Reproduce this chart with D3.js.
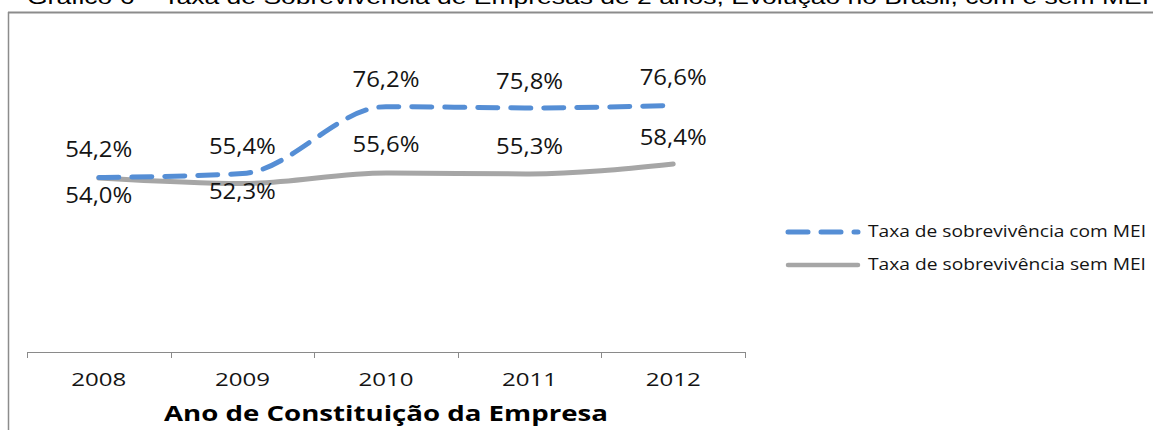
<!DOCTYPE html>
<meta charset="utf-8">
<style>
body { margin: 0; background: #fff; }
text { font-family: "Open Sans", sans-serif; fill: #141414; }
.title { font-family: "Liberation Sans", Arial, sans-serif; fill: #000; }
.axis path, .axis line { stroke: #8a8a8a; stroke-width: 1.5px; shape-rendering: crispEdges; }
.line { fill: none; stroke-width: 5px; stroke-linecap: round; stroke-linejoin: round; }
</style>
<body>
<script src="https://d3js.org/d3.v7.min.js"></script>
<script>

// data
var years = ["2008", "2009", "2010", "2011", "2012"];
var comMEI = [54.2, 55.4, 76.2, 75.8, 76.6];
var semMEI = [54.0, 52.3, 55.6, 55.3, 58.4];
var seriesNames = ["Taxa de sobrevivência com MEI", "Taxa de sobrevivência sem MEI"];
var titleText = "Gráfico 6 – Taxa de Sobrevivência de Empresas de 2 anos, Evolução no Brasil, com e sem MEI";
var axisTitle = "Ano de Constituição da Empresa";

// label offsets (baseline relative to point)
var comLabelDy = [-20, -20, -20, -19, -20];
var semLabelDy = [25, 15, -21, -20, -19];

var W = 1153, H = 430;
var blue = "#558ed5", gray = "#a6a6a6";
var fmt = function(v) { return v.toFixed(1).replace(".", ",") + "%"; };

var svg = d3.select("body").append("svg")
    .attr("width", W)
    .attr("height", H);

// title (cut at top, as in the source)
svg.append("text")
    .attr("class", "title")
    .attr("x", 27)
    .attr("y", 4)
    .attr("font-size", 21)
    .attr("textLength", 1122)
    .attr("lengthAdjust", "spacingAndGlyphs")
    .text(titleText);

// frame
svg.append("line").attr("x1", 8).attr("x2", W).attr("y1", 12.5).attr("y2", 12.5)
    .attr("stroke", "#8c8c8c").attr("stroke-width", 2);
svg.append("line").attr("x1", 8.5).attr("x2", 8.5).attr("y1", 12).attr("y2", H)
    .attr("stroke", "#8c8c8c").attr("stroke-width", 1.5);

// scales
var x = d3.scaleBand().domain(years).range([27, 745]);
var y = d3.scaleLinear().domain([0, 100]).range([352, 30]);
var cx = function(d, i) { return x(years[i]) + x.bandwidth() / 2; };

// x axis: line with ticks at band boundaries
var axis = svg.append("g").attr("class", "axis");
axis.append("path").attr("d", "M27,352.5H745");
var bounds = years.map(function(d) { return x(d); }).concat([x.range()[1]]);
axis.selectAll("line.tick").data(bounds).enter().append("line")
    .attr("x1", function(d) { return Math.round(d) + 0.5; })
    .attr("x2", function(d) { return Math.round(d) + 0.5; })
    .attr("y1", 352).attr("y2", 358);

svg.selectAll("text.year").data(years).enter().append("text")
    .attr("x", function(d) { return x(d) + x.bandwidth() / 2 - 27.5; })
    .attr("y", 386)
    .attr("font-size", 18)
    .attr("textLength", 55)
    .attr("lengthAdjust", "spacingAndGlyphs")
    .text(function(d) { return d; });

svg.append("text")
    .attr("x", 386 - 222)
    .attr("y", 421)
    .attr("font-size", 22)
    .attr("font-weight", "bold")
    .attr("textLength", 444)
    .attr("lengthAdjust", "spacingAndGlyphs")
    .style("fill", "#000")
    .text(axisTitle);

// lines
var line = d3.line()
    .x(cx)
    .y(function(d) { return y(d); })
    .curve(d3.curveMonotoneX);

svg.append("path")
    .datum(semMEI)
    .attr("class", "line")
    .attr("stroke", gray)
    .attr("stroke-width", 4.5)
    .attr("d", line);

svg.append("path")
    .datum(comMEI)
    .attr("class", "line")
    .attr("stroke", blue)
    .attr("stroke-dasharray", "20,13")
    .attr("d", line);

// data labels
function labels(vals, dys) {
  svg.selectAll(null).data(vals).enter().append("text")
      .attr("x", function(d, i) { return cx(d, i) - 33.5; })
      .attr("y", function(d, i) { return y(d) + dys[i]; })
      .attr("font-size", 21)
      .attr("textLength", 67)
      .attr("lengthAdjust", "spacingAndGlyphs")
      .text(fmt);
}
labels(comMEI, comLabelDy);
labels(semMEI, semLabelDy);

// legend
var legend = svg.append("g");
[{c: blue, dash: "20,13", y: 232}, {c: gray, dash: null, y: 265}].forEach(function(s, i) {
  legend.append("line")
      .attr("x1", 788).attr("x2", 858)
      .attr("y1", s.y).attr("y2", s.y)
      .attr("stroke", s.c)
      .attr("stroke-width", i ? 4.5 : 5)
      .attr("stroke-linecap", "round")
      .attr("stroke-dasharray", s.dash);
  legend.append("text")
      .attr("x", 868)
      .attr("y", s.y + 5)
      .attr("font-size", 16.5)
      .attr("textLength", 278)
      .attr("lengthAdjust", "spacingAndGlyphs")
      .text(seriesNames[i]);
});

</script>
</body>
